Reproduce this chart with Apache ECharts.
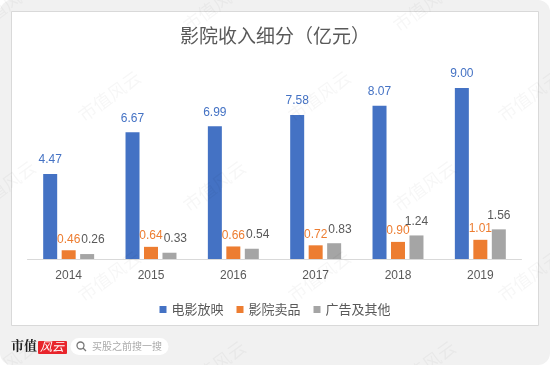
<!DOCTYPE html>
<html>
<head>
<meta charset="utf-8">
<script src="https://cdn.jsdelivr.net/npm/echarts@6/dist/echarts.min.js"></script>
<style>
  html, body { margin: 0; padding: 0; background: #ffffff; }
  #chart { width: 550px; height: 365px; }
</style>
</head>
<body>
<div id="chart"></div>
<script>
const years = ['2014', '2015', '2016', '2017', '2018', '2019'];
const screening = [4.47, 6.67, 6.99, 7.58, 8.07, 9.00];   // 电影放映
const concession = [0.46, 0.64, 0.66, 0.72, 0.90, 1.01]; // 影院卖品
const adsOther = [0.26, 0.33, 0.54, 0.83, 1.24, 1.56];   // 广告及其他

const numFont = '"Liberation Sans", Arial, sans-serif';
const cnFont = '"Noto Sans CJK SC", sans-serif';
const BAR_W = 14;
const GAP = 0.32;
const ORANGE_DIST = 5;

let chart = echarts.init(document.getElementById('chart'));

// faint "市值风云" watermark tiles
let marks = [];
for (let r = 0; r < 5; r++) {
    for (let c = 0; c < 4; c++) {
        marks.push({
            type: 'text',
            x: c * 210 + (r % 2) * 105 - 30,
            y: r * 90 + 20,
            rotation: Math.PI / 5,
            z: 100,
            silent: true,
            style: {
                text: '市值风云',
                font: '18px ' + cnFont,
                fill: 'rgba(0,0,0,0.035)'
            }
        });
    }
}

function barSeries(name, data, color, labelColor, dist) {
    return {
        name: name,
        type: 'bar',
        data: data,
        barWidth: BAR_W,
        barGap: GAP * 100 + '%',
        itemStyle: { color: color },
        label: {
            show: true,
            position: 'top',
            distance: dist,
            color: labelColor,
            fontSize: 12,
            fontFamily: numFont,
            formatter: (p) => p.value.toFixed(2)
        }
    };
}

// push a grey label right when it would collide with the orange label next to it
function greyLabelLayout(params) {
    const i = params.dataIndex;
    const r = params.rect;
    const lr = params.labelRect;
    const base = r.y + r.height;
    const scale = r.height / adsOther[i];
    const oTop = base - concession[i] * scale;
    const oCx = r.x + r.width / 2 - r.width * (1 + GAP);
    const oBottom = oTop - ORANGE_DIST - 2;
    const oTopText = oBottom - lr.height + 4;
    const oRight = oCx + lr.width / 2;
    const vOverlap = lr.y + 2 < oBottom && lr.y + lr.height - 2 > oTopText;
    if (vOverlap && lr.x < oRight + 1) {
        return { dx: oRight + 1 - lr.x };
    }
    return {};
}

const option = {
    animation: false,
    title: {
        text: '影院收入细分（亿元）',
        left: 'center',
        top: 26,
        padding: 0,
        textStyle: { fontSize: 19, fontWeight: 'normal', color: '#595959', fontFamily: cnFont }
    },
    legend: {
        left: 'center',
        top: 298,
        icon: 'rect',
        itemWidth: 7,
        itemHeight: 7,
        itemGap: 13,
        textStyle: { fontSize: 13, color: '#595959', fontFamily: cnFont },
        data: ['电影放映', '影院卖品', '广告及其他']
    },
    grid: { left: 27.5, right: 28.5, top: 69, bottom: 106 },
    xAxis: {
        type: 'category',
        data: years,
        axisLine: { lineStyle: { color: '#d9d9d9' } },
        axisTick: { show: false },
        axisLabel: { color: '#595959', fontSize: 12, margin: 11, fontFamily: numFont }
    },
    yAxis: {
        type: 'value',
        min: 0,
        max: 10,
        show: false
    },
    graphic: [
        {
            type: 'rect', z: -20, silent: true,
            shape: { x: 0, y: 0, width: 550, height: 365, r: 12 },
            style: { fill: '#f1f1f1' }
        },
        {
            type: 'rect', z: -10, silent: true,
            shape: { x: 11.5, y: 11.5, width: 527, height: 314 },
            style: { fill: '#ffffff', stroke: '#d9d9d9', lineWidth: 1 }
        },
        {
            type: 'text', left: 11, top: 339, z: 10,
            style: { text: '市值', font: 'bold 13px "Noto Serif CJK SC", ' + cnFont, fill: '#222222' }
        },
        {
            type: 'rect', z: 10,
            shape: { x: 38, y: 341, width: 29, height: 13, r: 1 },
            style: { fill: '#e8242b' }
        },
        {
            type: 'text', left: 40, top: 340, z: 11,
            style: { text: '风云', font: 'italic 12px ' + cnFont, fill: '#ffffff' }
        },
        {
            type: 'rect', z: 10,
            shape: { x: 70.5, y: 338, width: 98, height: 17, r: 8.5 },
            style: { fill: '#ffffff' }
        },
        {
            type: 'circle', z: 11,
            shape: { cx: 80.5, cy: 345.5, r: 3.5 },
            style: { fill: 'none', stroke: '#777777', lineWidth: 1.3 }
        },
        {
            type: 'line', z: 11,
            shape: { x1: 83, y1: 348, x2: 86, y2: 351 },
            style: { stroke: '#777777', lineWidth: 1.3 }
        },
        {
            type: 'text', left: 92, top: 341, z: 11,
            style: { text: '买股之前搜一搜', font: '10px ' + cnFont, fill: '#aaaaaa' }
        }
    ].concat(marks),
    series: [
        barSeries('电影放映', screening, '#4472C4', '#4472C4', 8),
        barSeries('影院卖品', concession, '#ED7D31', '#ED7D31', ORANGE_DIST),
        Object.assign(barSeries('广告及其他', adsOther, '#A5A5A5', '#595959', 8), {
            labelLayout: greyLabelLayout
        })
    ]
};

option && chart.setOption(option);
window.addEventListener('resize', chart.resize);
</script>
</body>
</html>
